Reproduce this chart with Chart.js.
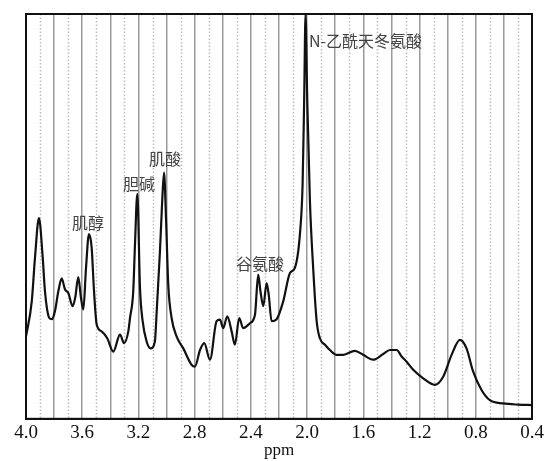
<!DOCTYPE html>
<html>
<head>
<meta charset="utf-8">
<script src="https://cdn.jsdelivr.net/npm/chart.js@4.4.0/dist/chart.umd.min.js"></script>
<style>
  html, body { margin: 0; padding: 0; background: #fff; }
  #wrap { width: 554px; height: 461px; }
</style>
</head>
<body>
<div id="wrap"><canvas id="myChart"></canvas></div>
<script>
// chemical shift (ppm) and signal intensity
var ppm = [4.000, 3.959, 3.936, 3.908, 3.881, 3.865, 3.834, 3.817, 3.794, 3.770, 3.746, 3.723, 3.699, 3.668, 3.650,
  3.628, 3.609, 3.592, 3.573, 3.552, 3.533, 3.516, 3.497, 3.462, 3.422, 3.379, 3.331, 3.303, 3.272, 3.260,
  3.237, 3.225, 3.208, 3.189, 3.170, 3.142, 3.113, 3.083, 3.070, 3.047, 3.031, 3.018, 3.004, 2.988, 2.964,
  2.928, 2.881, 2.821, 2.798, 2.762, 2.732, 2.691, 2.644, 2.620, 2.597, 2.568, 2.537, 2.514, 2.483, 2.455,
  2.407, 2.371, 2.348, 2.332, 2.312, 2.288, 2.272, 2.253, 2.217, 2.170, 2.122, 2.087, 2.051, 2.032, 2.021,
  2.011, 1.999, 1.980, 1.957, 1.932, 1.909, 1.873, 1.838, 1.790, 1.743, 1.660, 1.601, 1.530, 1.459, 1.411,
  1.363, 1.328, 1.292, 1.245, 1.174, 1.091, 1.032, 0.972, 0.913, 0.866, 0.819, 0.759, 0.700, 0.605, 0.500, 0.400];
var intensity = [20.3, 29.0, 39.8, 49.6, 39.8, 31.5, 24.9, 24.6, 26.6, 31.5, 34.7, 32.0, 31.1, 27.8, 29.9,
  35.0, 29.9, 27.0, 37.3, 45.6, 42.3, 31.5, 23.3, 21.6, 19.9, 16.6, 20.8, 18.7, 21.6, 24.9,
  31.5, 42.7, 55.6, 32.3, 24.1, 19.1, 17.4, 19.1, 26.6, 41.4, 53.8, 60.8, 49.7, 33.2, 24.9,
  20.3, 17.4, 13.3, 12.9, 17.0, 18.7, 14.6, 24.1, 24.5, 22.4, 25.3, 21.6, 18.3, 24.9, 22.4,
  23.6, 25.7, 35.6, 31.5, 27.8, 33.5, 30.3, 24.1, 24.6, 29.0, 36.0, 37.3, 45.7, 58.1, 78.7,
  100, 78.7, 53.8, 37.3, 24.1, 19.9, 18.3, 17.0, 15.8, 15.8, 16.8, 15.8, 14.6, 16.0, 17.0,
  17.0, 15.4, 14.1, 12.1, 10.0, 8.4, 10.4, 15.8, 19.5, 17.4, 11.7, 7.1, 4.6, 3.8, 3.5, 3.4];

// peak labels and where they sit (ppm, intensity)
var peakNames = ['肌醇', '胆碱', '肌酸', '谷氨酸', 'N-乙酰天冬氨酸'];
var peakPpm = [3.559, 3.196, 3.011, 2.336, 1.987];
var peakLevel = [48.4, 58.1, 64.3, 38.2, 93.3];

var ppmMin = 0.4, ppmMax = 4.0;

var points = ppm.map(function(p, i) { return { x: p, y: intensity[i] }; });

// dotted half-step lines, peak labels and the box round the plot
var decorations = {
  id: 'decorations',
  beforeDatasetsDraw: function(chart) {
    var ctx = chart.ctx, xs = chart.scales.x, area = chart.chartArea;
    ctx.save();
    ctx.strokeStyle = '#bdbdbd';
    ctx.lineWidth = 1.5;
    ctx.setLineDash([1.5, 2]);
    for (var k = 5; k < 40; k += 2) {
      var px = Math.round(xs.getPixelForValue(k / 10)) + 0.5;
      ctx.beginPath();
      ctx.moveTo(px, area.top);
      ctx.lineTo(px, area.bottom);
      ctx.stroke();
    }
    ctx.restore();
  },
  afterDraw: function(chart) {
    var ctx = chart.ctx, xs = chart.scales.x, ys = chart.scales.y, area = chart.chartArea;
    ctx.save();
    ctx.strokeStyle = '#111';
    ctx.lineWidth = 2;
    ctx.strokeRect(area.left, area.top, area.right - area.left, area.bottom - area.top);
    ctx.fillStyle = '#444';
    ctx.font = '16px "Noto Sans CJK SC", sans-serif';
    ctx.textBaseline = 'middle';
    peakNames.forEach(function(name, i) {
      ctx.textAlign = i === peakNames.length - 1 ? 'left' : 'center';
      ctx.fillText(name, xs.getPixelForValue(peakPpm[i]), ys.getPixelForValue(peakLevel[i]));
    });
    ctx.restore();
  }
};

var ctx = document.getElementById('myChart').getContext('2d');
var chart = new Chart(ctx, {
  type: 'line',
  data: {
    datasets: [{
      data: points,
      borderColor: '#111',
      borderWidth: 2.2,
      pointRadius: 0,
      fill: false,
      cubicInterpolationMode: 'monotone'
    }]
  },
  options: {
    responsive: true,
    maintainAspectRatio: false,
    animation: false,
    layout: { padding: { left: 26, right: 22, top: 14, bottom: 0 } },
    plugins: { legend: { display: false }, tooltip: { enabled: false } },
    scales: {
      x: {
        type: 'linear',
        reverse: true,
        min: ppmMin,
        max: ppmMax,
        border: { display: true, color: '#111', width: 2 },
        grid: { color: '#9a9a9a', lineWidth: 1.5, drawTicks: false },
        ticks: {
          stepSize: 0.2,
          autoSkip: false,
          maxRotation: 0,
          padding: 3,
          color: '#111',
          font: { family: '"Liberation Serif", serif', size: 19 },
          callback: function(v) {
            return Math.round(v * 10) % 4 === 0 ? v.toFixed(1) : '';
          }
        },
        title: {
          display: true,
          text: 'ppm',
          color: '#111',
          padding: { top: -7, bottom: 0 },
          font: { family: '"Liberation Serif", serif', size: 17 }
        }
      },
      y: {
        display: false,
        min: 0,
        max: 100
      }
    }
  },
  plugins: [decorations]
});
</script>
</body>
</html>
